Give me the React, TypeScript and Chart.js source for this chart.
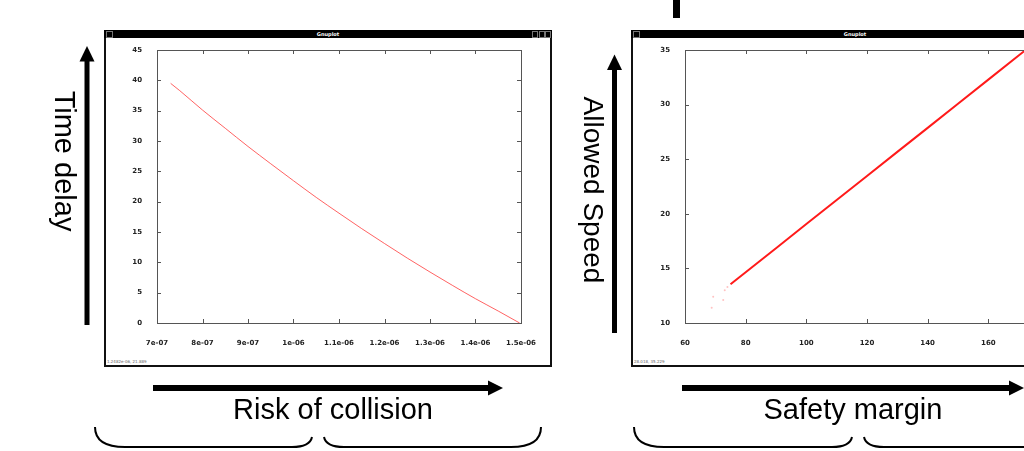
import React, { useEffect, useRef } from "react";
import { Chart, registerables } from "chart.js";
Chart.register(...registerables);

// ---- Left plot: Risk of collision vs Time delay ----
const riskX = [7.3e-7, 7.5e-7, 8e-7, 8.5e-7, 9e-7, 9.5e-7, 1e-6, 1.05e-6, 1.1e-6, 1.15e-6, 1.2e-6, 1.25e-6, 1.3e-6, 1.35e-6, 1.4e-6, 1.45e-6, 1.497e-6];
const delayY = [39.5, 38.3, 35.1, 32.1, 29.1, 26.25, 23.45, 20.7, 18.1, 15.55, 13.1, 10.7, 8.4, 6.17, 4.0, 1.97, 0.0];
const riskTicks = [7e-7, 8e-7, 9e-7, 1e-6, 1.1e-6, 1.2e-6, 1.3e-6, 1.4e-6, 1.5e-6];
const riskTickLabels = ["7e-07", "8e-07", "9e-07", "1e-06", "1.1e-06", "1.2e-06", "1.3e-06", "1.4e-06", "1.5e-06"];
const delayTicks = [0, 5, 10, 15, 20, 25, 30, 35, 40, 45];

// ---- Right plot: Safety margin vs Allowed speed ----
const marginX = [75, 80, 90, 100, 110, 120, 130, 140, 150, 160, 170, 172];
const speedY = [13.54, 14.65, 16.85, 19.06, 21.26, 23.47, 25.67, 27.87, 30.08, 32.29, 34.49, 34.93];
const strayMarginX = [68.8, 69.3, 72.6, 73.1, 74.0];
const straySpeedY = [11.4, 12.4, 12.1, 13.0, 13.3];
const marginTicks = [60, 80, 100, 120, 140, 160, 180];
const speedTicks = [10, 15, 20, 25, 30, 35];

const gnuFrame = {
  id: "gnuFrame",
  afterDatasetsDraw(chart: any) {
    const { ctx, chartArea: a, scales } = chart;
    ctx.save();
    ctx.strokeStyle = "#555";
    ctx.lineWidth = 1;
    ctx.strokeRect(Math.round(a.left) + 0.5, Math.round(a.top) + 0.5, Math.round(a.right - a.left), Math.round(a.bottom - a.top));
    ctx.beginPath();
    const len = 4;
    scales.x.ticks.forEach((t: any) => {
      const px = Math.round(scales.x.getPixelForValue(t.value)) + 0.5;
      ctx.moveTo(px, a.bottom);
      ctx.lineTo(px, a.bottom - len);
      ctx.moveTo(px, a.top);
      ctx.lineTo(px, a.top + len);
    });
    scales.y.ticks.forEach((t: any) => {
      const py = Math.round(scales.y.getPixelForValue(t.value)) + 0.5;
      ctx.moveTo(a.left, py);
      ctx.lineTo(a.left + len, py);
      ctx.moveTo(a.right, py);
      ctx.lineTo(a.right - len, py);
    });
    ctx.stroke();
    ctx.restore();
  },
};

const tickFont = { family: "DejaVu Sans", size: 7, weight: "bold" as const };

function makeScales(xTicks: number[], xLabels: string[] | null, yTicks: number[], yWidth: number) {
  return {
    x: {
      type: "linear" as const,
      min: xTicks[0],
      max: xTicks[xTicks.length - 1],
      grid: { display: false },
      border: { display: false },
      afterBuildTicks: (s: any) => { s.ticks = xTicks.map((v) => ({ value: v })); },
      afterFit: (s: any) => { s.height = 42; },
      ticks: {
        font: tickFont,
        color: "#222",
        padding: 8,
        maxRotation: 0,
        autoSkip: false,
        callback: (v: any, i: number) => (xLabels ? xLabels[i] : String(v)),
      },
    },
    y: {
      type: "linear" as const,
      min: yTicks[0],
      max: yTicks[yTicks.length - 1],
      grid: { display: false },
      border: { display: false },
      afterBuildTicks: (s: any) => { s.ticks = yTicks.map((v) => ({ value: v })); },
      afterFit: (s: any) => { s.width = yWidth; },
      ticks: { font: tickFont, color: "#222", padding: 7, autoSkip: false },
    },
  };
}

function GnuCanvas({ kind, left }: { kind: "risk" | "margin"; left: number }) {
  const ref = useRef<HTMLCanvasElement>(null);
  useEffect(() => {
    if (!ref.current) return;
    const datasets: any[] = [];
    let scales;
    let padRight = 29;
    if (kind === "risk") {
      datasets.push({
        data: riskX.map((x, i) => ({ x, y: delayY[i] })),
        showLine: true,
        borderColor: "rgba(255,60,60,0.8)",
        borderWidth: 1,
        pointRadius: 0,
        cubicInterpolationMode: "monotone",
      });
      scales = makeScales(riskTicks, riskTickLabels, delayTicks, 51);
    } else {
      datasets.push({
        data: marginX.map((x, i) => ({ x, y: speedY[i] })),
        showLine: true,
        borderColor: "#ff1a1a",
        borderWidth: 2,
        pointRadius: 0,
      });
      datasets.push({
        data: strayMarginX.map((x, i) => ({ x, y: straySpeedY[i] })),
        showLine: false,
        backgroundColor: "rgba(255,120,120,0.45)",
        borderWidth: 0,
        pointRadius: 1,
      });
      scales = makeScales(marginTicks, null, speedTicks, 52);
      padRight = 28;
    }
    const chart = new Chart(ref.current, {
      type: "scatter",
      data: { datasets },
      options: {
        animation: false,
        responsive: false,
        devicePixelRatio: 1,
        layout: { padding: { left: 0, top: 12, right: padRight, bottom: 0 } },
        plugins: { legend: { display: false }, tooltip: { enabled: false } },
        scales,
      } as any,
      plugins: [gnuFrame],
    });
    return () => chart.destroy();
  }, [kind]);
  return (
    <canvas
      ref={ref}
      width={444}
      height={327}
      style={{ position: "absolute", left, top: 38, width: 444, height: 327 }}
    />
  );
}

function GnuWindow({ left, status }: { left: number; status: string }) {
  return (
    <div
      style={{
        position: "absolute",
        left,
        top: 30,
        width: 448,
        height: 337,
        border: "2px solid #111",
        borderTop: "0",
        boxSizing: "border-box",
        background: "#fff",
      }}
    >
      <div
        style={{
          position: "absolute",
          left: -2,
          top: 0,
          width: 448,
          height: 8,
          background: "#000",
          color: "#fff",
          fontFamily: "DejaVu Sans",
          fontWeight: "bold",
          fontSize: 5,
          lineHeight: "8px",
          textAlign: "center",
        }}
      >
        Gnuplot
        <div style={{ position: "absolute", left: 2, top: 1, width: 5, height: 5, border: "1px solid #777" }} />
        <div style={{ position: "absolute", left: 428, top: 1, width: 4, height: 5, border: "1px solid #777" }} />
        <div style={{ position: "absolute", left: 435, top: 1, width: 4, height: 5, border: "1px solid #777" }} />
        <div style={{ position: "absolute", left: 441, top: 1, width: 4, height: 5, border: "1px solid #777" }} />
      </div>
      <div
        style={{
          position: "absolute",
          left: 1,
          bottom: 1,
          fontFamily: "DejaVu Sans",
          fontSize: 4,
          color: "#666",
        }}
      >
        {status}
      </div>
    </div>
  );
}

export default function App() {
  const labelFont = "'Liberation Sans', Arial, sans-serif";
  return (
    <div
      style={{
        position: "fixed",
        left: 0,
        top: 0,
        width: 1024,
        height: 451,
        overflow: "hidden",
        background: "#fff",
      }}
    >
      <GnuWindow left={104} status="1.2482e-06, 21.889" />
      <GnuWindow left={631} status="28.018, 35.229" />
      <GnuCanvas kind="risk" left={106} />
      <GnuCanvas kind="margin" left={633} />
      <svg
        width={1024}
        height={451}
        style={{ position: "absolute", left: 0, top: 0, pointerEvents: "none" }}
      >
        {/* partial title descender */}
        <rect x={673} y={0} width={7} height={18} fill="#000" />
        {/* vertical arrows */}
        <rect x={84.5} y={60} width={5} height={265} fill="#000" />
        <polygon points="79.5,61.5 94.5,61.5 87,46" fill="#000" />
        <rect x={612} y={69} width={5} height={264} fill="#000" />
        <polygon points="607,70 622,70 614.5,54.5" fill="#000" />
        {/* horizontal arrows */}
        <rect x={153} y={385} width={336} height={6} fill="#000" />
        <polygon points="488,380.5 488,395.5 503,388" fill="#000" />
        <rect x={682} y={385} width={328} height={6} fill="#000" />
        <polygon points="1009,380.5 1009,395.5 1024,388" fill="#000" />
        {/* axis captions */}
        <text
          transform="translate(65,161) rotate(90)"
          textAnchor="middle"
          dominantBaseline="central"
          fontFamily={labelFont}
          fontSize={29}
          fill="#000"
        >
          Time delay
        </text>
        <text
          transform="translate(593,190) rotate(90)"
          textAnchor="middle"
          dominantBaseline="central"
          fontFamily={labelFont}
          fontSize={28}
          fill="#000"
        >
          Allowed Speed
        </text>
        <text x={333} y={419} textAnchor="middle" fontFamily={labelFont} fontSize={29} fill="#000">
          Risk of collision
        </text>
        <text x={853} y={419} textAnchor="middle" fontFamily={labelFont} fontSize={29} fill="#000">
          Safety margin
        </text>
        {/* braces */}
        <path
          d="M95,427 Q95,447 125,447 L292,447 Q310,447 312,437 M324,437 Q326,447 344,447 L511,447 Q541,447 541,427"
          fill="none"
          stroke="#000"
          strokeWidth={2}
        />
        <path
          d="M634,427 Q634,447 664,447 L832,447 Q850,447 852,437 M864,437 Q866,447 884,447 L1051,447"
          fill="none"
          stroke="#000"
          strokeWidth={2}
        />
      </svg>
    </div>
  );
}
